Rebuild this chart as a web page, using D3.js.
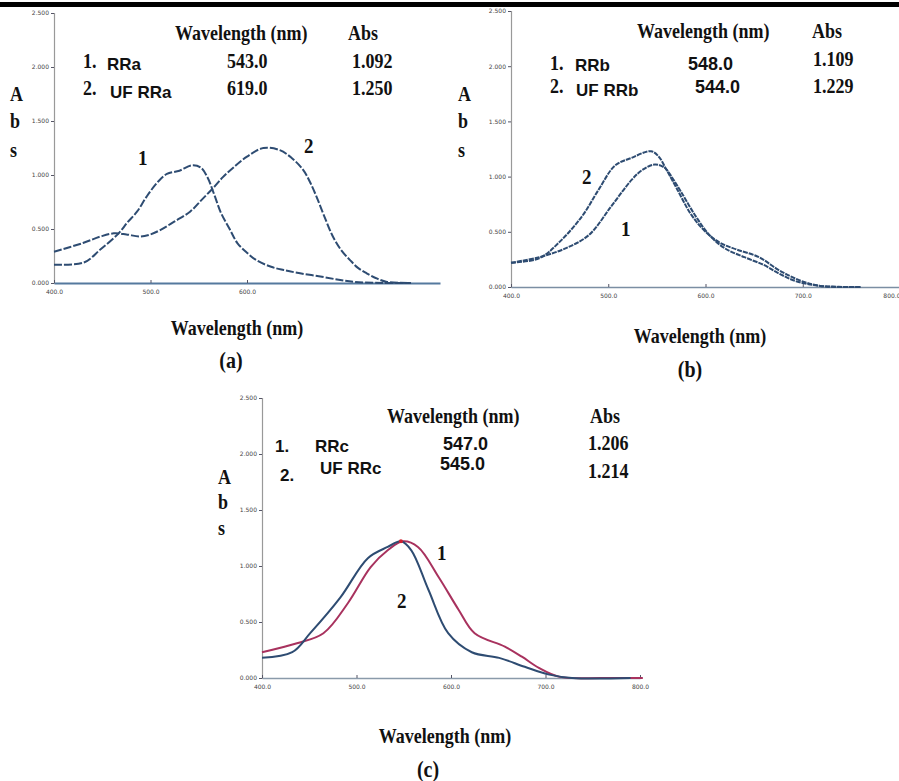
<!DOCTYPE html>
<meta charset="utf-8">
<style>
    body { margin: 0; background: #fff; }
    .serif { font-family: "Liberation Serif", "Times New Roman", serif; font-weight: bold; fill: #111; }
    .sans { font-family: "Liberation Sans", Arial, sans-serif; font-weight: bold; fill: #111; }
    .tick text { font: 6px "DejaVu Sans", sans-serif; fill: #444; }
    .tick line { stroke: #556; }
</style>
<svg width="899" height="781"></svg>
<script src="https://d3js.org/d3.v7.min.js"></script>
<script>

    // ---- data ----
    var rraWl   = [400, 431, 448, 467, 476, 486, 496, 507, 517, 530, 543, 552, 559, 566, 573, 582, 590, 600, 610, 625, 638, 655, 676, 695, 711, 740, 770];
    var rraAbs  = [0.17, 0.19, 0.31, 0.46, 0.56, 0.66, 0.80, 0.93, 1.01, 1.04, 1.09, 1.07, 0.98, 0.82, 0.65, 0.50, 0.37, 0.28, 0.21, 0.15, 0.12, 0.09, 0.06, 0.03, 0.01, 0.0, 0.0];
    var ufRraWl  = [400, 430, 448, 462, 475, 489, 500, 510, 525, 541, 553, 565, 575, 586, 600, 617, 634, 646, 658, 665, 672, 680, 689, 698, 707, 715, 724, 735, 745, 769];
    var ufRraAbs = [0.29, 0.37, 0.43, 0.46, 0.45, 0.43, 0.45, 0.49, 0.57, 0.66, 0.77, 0.88, 0.98, 1.07, 1.17, 1.25, 1.23, 1.16, 1.05, 0.94, 0.80, 0.62, 0.43, 0.30, 0.21, 0.14, 0.09, 0.04, 0.01, 0.0];

    var rrbWl   = [400, 429, 456, 480, 503, 524, 535, 548, 558, 565, 575, 590, 605, 620, 640, 660, 676, 694, 718, 760];
    var rrbAbs  = [0.22, 0.27, 0.35, 0.47, 0.73, 0.97, 1.06, 1.11, 1.08, 1.00, 0.86, 0.64, 0.46, 0.35, 0.27, 0.20, 0.12, 0.05, 0.01, 0.0];
    var ufRrbWl  = [400, 429, 449, 473, 490, 507, 524, 544, 552, 560, 570, 585, 600, 615, 632, 655, 676, 697, 718, 760];
    var ufRrbAbs = [0.22, 0.26, 0.40, 0.64, 0.88, 1.10, 1.17, 1.23, 1.18, 1.06, 0.90, 0.66, 0.50, 0.40, 0.34, 0.27, 0.15, 0.06, 0.01, 0.0];

    var rrcWl   = [400, 437, 465, 491, 515, 533, 549, 565, 587, 608, 625, 657, 675, 693, 715, 760, 803];
    var rrcAbs  = [0.23, 0.31, 0.40, 0.67, 0.99, 1.14, 1.22, 1.17, 0.90, 0.61, 0.40, 0.28, 0.19, 0.09, 0.01, 0.0, 0.0];
    var ufRrcWl  = [400, 432, 451, 483, 512, 533, 547, 558, 576, 597, 622, 651, 678, 704, 728, 790];
    var ufRrcAbs = [0.18, 0.23, 0.40, 0.72, 1.07, 1.17, 1.22, 1.14, 0.79, 0.40, 0.23, 0.18, 0.10, 0.03, 0.0, 0.0];

    // ---- legend tables ----
    var namesA = ["RRa", "UF RRa"], peaksA = ["543.0", "619.0"], absA = ["1.092", "1.250"];
    var namesB = ["RRb", "UF RRb"], peaksB = ["548.0", "544.0"], absB = ["1.109", "1.229"];
    var namesC = ["RRc", "UF RRc"], peaksC = ["547.0", "545.0"], absC = ["1.206", "1.214"];

    // ---- ticks ----
    var yTicks = [0, 0.5, 1.0, 1.5, 2.0, 2.5];
    var xTicksA = [400, 500, 600];
    var xTicksBC = [400, 500, 600, 700, 800];

    var svg = d3.select("svg");

    // black rule at the top of the page
    svg.append("rect").attr("x", 0).attr("y", 2).attr("width", 899).attr("height", 5).attr("fill", "#000");

    // text helper: the scanned serif lettering is a little taller than normal
    function txt(g, cls, x, y, size, str, anchor) {
        var sy = cls === "serif" ? 1.12 : 1;
        return g.append("text").attr("class", cls)
            .attr("transform", "translate(" + x + "," + y + ") scale(1," + sy + ")")
            .attr("text-anchor", anchor || "start")
            .style("font-size", size + "px")
            .text(str);
    }

    var panels = [
        {
            id: "a", xr: [54, 440], yr: [283, 13], xTicks: xTicksA, xAxisColor: "#55799e", xAxisWidth: 2,
            series: [
                {wl: rraWl, abs: rraAbs, color: "#2e4c72", dash: "8,2"},
                {wl: ufRraWl, abs: ufRraAbs, color: "#2e4c72", dash: "8,2"}
            ],
            names: namesA, peaks: peaksA, absv: absA,
            head: {wx: 175, ax: 348, y: 40},
            rows: [
                {nx: 83, sx: 107, sy: 70, px: 227, vx: 352, y: 68},
                {nx: 83, sx: 110, sy: 98, px: 227, vx: 352, y: 95}
            ],
            abs: {x: 10, ys: [101, 128, 157]},
            lab1: [138, 165], lab2: [304, 153],
            title: [237, 335], tag: [231, 368]
        },
        {
            id: "b", xr: [511, 900], yr: [287, 11], xTicks: xTicksBC, xAxisColor: "#7b8ea3", xAxisWidth: 1.5,
            series: [
                {wl: rrbWl, abs: rrbAbs, color: "#2e4c72", dash: "5,1"},
                {wl: ufRrbWl, abs: ufRrbAbs, color: "#2e4c72", dash: "5,1"}
            ],
            names: namesB, peaks: peaksB, absv: absB,
            head: {wx: 637, ax: 812, y: 38},
            rows: [
                {nx: 550, sx: 575, sy: 71, px: 688, vx: 813, y: 70, numSans: true, vy: 66},
                {nx: 550, sx: 576, sy: 96, px: 695, vx: 813, y: 93, numSans: true, vy: 93}
            ],
            abs: {x: 458, ys: [101, 128, 157]},
            lab1: [621, 236], lab2: [582, 184],
            title: [700, 343], tag: [690, 377]
        },
        {
            id: "c", xr: [262, 640], yr: [678, 398], xTicks: xTicksBC, xAxisColor: "#8a9aaa", xAxisWidth: 1.5,
            series: [
                {wl: rrcWl, abs: rrcAbs, color: "#a8325e", dash: null},
                {wl: ufRrcWl, abs: ufRrcAbs, color: "#2e4c72", dash: null}
            ],
            names: namesC, peaks: peaksC, absv: absC,
            head: {wx: 387, ax: 590, y: 423},
            rows: [
                {nx: 275, sx: 315, sy: 452, px: 443, vx: 588, y: 450, numSans: true, vy: 450, nSans: true, ny: 452},
                {nx: 280, sx: 320, sy: 474, px: 440, vx: 588, y: 470, numSans: true, vy: 478, nSans: true, ny: 481}
            ],
            abs: {x: 218, ys: [484, 509, 535]},
            lab1: [437, 560], lab2: [397, 608],
            title: [445, 743], tag: [428, 777]
        }
    ];

    panels.forEach(function (p) {
        var x = d3.scaleLinear().domain([400, 800]).range(p.xr);
        var y = d3.scaleLinear().domain([0, 2.5]).range(p.yr);
        var g = svg.append("g").attr("class", "panel-" + p.id);

        // y axis
        var ya = g.append("g")
            .attr("transform", "translate(" + p.xr[0] + ",0)")
            .call(d3.axisLeft(y).tickValues(yTicks).tickSize(3).tickPadding(2).tickFormat(d3.format(".3f")));
        ya.select(".domain").attr("stroke", "#999").attr("stroke-width", 1.2);

        // x axis
        var xa = g.append("g")
            .attr("transform", "translate(0," + p.yr[0] + ")")
            .call(d3.axisBottom(x).tickValues(p.xTicks).tickSizeInner(-3).tickSizeOuter(0).tickPadding(7).tickFormat(d3.format(".1f")));
        xa.select(".domain").attr("stroke", p.xAxisColor).attr("stroke-width", p.xAxisWidth);
        // last label sits on the page edge: keep it inside
        xa.selectAll(".tick text").filter(function (d) { return x(d) > 890; }).attr("text-anchor", "end");

        // spectra
        var line = d3.line()
            .x(function (d) { return x(d[0]); })
            .y(function (d) { return y(d[1]); })
            .curve(d3.curveCatmullRom.alpha(0.5));

        p.series.forEach(function (s) {
            g.append("path")
                .datum(d3.zip(s.wl, s.abs))
                .attr("fill", "none")
                .attr("stroke", s.color)
                .attr("stroke-width", 2)
                .attr("stroke-dasharray", s.dash)
                .attr("d", line);
        });

        if (p.id === "c") {
            g.append("circle")
                .attr("cx", x(+p.peaks[0])).attr("cy", y(1.22)).attr("r", 2)
                .attr("fill", "#d02030");
        }

        // legend table
        txt(g, "serif", p.head.wx, p.head.y, 18, "Wavelength (nm)");
        txt(g, "serif", p.head.ax, p.head.y, 18, "Abs");

        p.rows.forEach(function (r, i) {
            txt(g, r.nSans ? "sans" : "serif", r.nx, r.ny || r.y, r.nSans ? 17 : 18, (i + 1) + ".");
            txt(g, "sans", r.sx, r.sy, 17, p.names[i]);
            txt(g, r.numSans ? "sans" : "serif", r.px, r.y, r.numSans ? 18 : 18, p.peaks[i]);
            txt(g, "serif", r.vx, r.vy || r.y, 18, p.absv[i]);
        });

        // vertical "A b s"
        ["A", "b", "s"].forEach(function (ch, i) {
            txt(g, "serif", p.abs.x, p.abs.ys[i], 18, ch);
        });

        // curve numbers
        txt(g, "serif", p.lab1[0], p.lab1[1], 19, "1");
        txt(g, "serif", p.lab2[0], p.lab2[1], 19, "2");

        // axis title and panel tag
        txt(g, "serif", p.title[0], p.title[1], 18, "Wavelength (nm)", "middle");
        txt(g, "serif", p.tag[0], p.tag[1], 20, "(" + p.id + ")", "middle");
    });
</script>
